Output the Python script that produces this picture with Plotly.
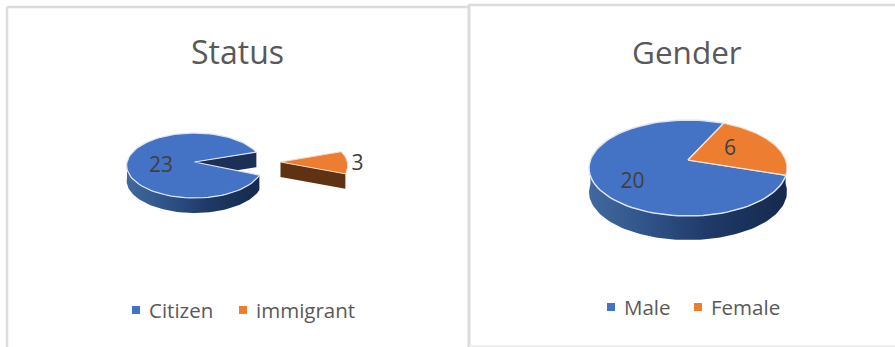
import math
import plotly.graph_objects as go

# Chart data
status_labels = ["Citizen", "immigrant"]
status_values = [23, 3]
gender_labels = ["Male", "Female"]
gender_values = [20, 6]

BLUE, ORANGE = "#4472C4", "#ED7D31"
TEXT = "#404040"
TITLE = "#595959"
FONT = "Open Sans"
FRAME = "#DCDCDC"


def project(pie, theta, radius=1.0, lift=0.0, dx=0.0):
    """Perspective projection of a disc point; theta runs clockwise from 12 o'clock."""
    u = radius * math.sin(math.radians(theta))
    v = -radius * math.cos(math.radians(theta))
    w = 1 - pie["tilt"] * v
    return (pie["cx"] + dx + pie["k"] * u / w, pie["cy"] + lift + pie["b"] * v / w)


def arc(pie, a0, a1, lift=0.0, dx=0.0, n=90, radius=1.0):
    return [project(pie, a0 + (a1 - a0) * i / n, radius, lift, dx) for i in range(n + 1)]


def add_poly(fig, pts, fill=None, line=None, width=0, gradient=None):
    xs = [p[0] for p in pts] + [pts[0][0]]
    ys = [p[1] for p in pts] + [pts[0][1]]
    kw = dict(x=xs, y=ys, mode="lines", hoverinfo="skip", showlegend=False,
              line=dict(color=line or "rgba(0,0,0,0)", width=width))
    if gradient:
        kw["fill"] = "toself"
        kw["fillgradient"] = dict(type="horizontal", colorscale=gradient)
    elif fill:
        kw["fill"] = "toself"
        kw["fillcolor"] = fill
    fig.add_trace(go.Scatter(**kw))


def sweeps(values, first_angle):
    out, start = [], first_angle
    total = sum(values)
    for val in values:
        end = start + 360 * val / total
        out.append((start, end))
        start = end
    return out


WALL_GRADIENT = [[0, "#41699F"], [0.3, "#2F5388"], [0.6, "#1F3A68"], [1, "#15294B"]]
EDGE = "#DDE5F2"

fig = go.Figure()

# Status pie: the small slice is pulled out to the right
status = dict(cx=194.5, cy=162, k=67.5, b=32.1, tilt=0.108, depth=15)
(blue_a, blue_b), (orange_a, orange_b) = sweeps(status_values, 113)
d = status["depth"]
apex = project(status, 0, 0)
pull = 86
wedge_turn = -2
wedge_radius = 0.99

# Blue rim wall, cut face, then the top surface
rim = arc(status, max(blue_a, 90), 270)
add_poly(fig, rim + [(x, y + d) for x, y in reversed(rim)], gradient=WALL_GRADIENT)
cut = project(status, orange_a)
add_poly(fig, [apex, cut, (cut[0], cut[1] + d), (apex[0], apex[1] + d)], fill="#1B2F57")
add_poly(fig, [apex] + arc(status, blue_a, blue_b), fill=BLUE, line=EDGE, width=1.2)

# Detached orange wedge
far = project(status, orange_b + wedge_turn, wedge_radius, 0, pull)
tip = project(status, 0, 0, 0, pull)
add_poly(fig, [tip, far, (far[0], far[1] + d), (tip[0], tip[1] + d)], fill="#5F3312")
add_poly(fig, [tip] + arc(status, orange_a + wedge_turn, orange_b + wedge_turn, 0, pull, radius=wedge_radius),
         fill=ORANGE, line="#F4D9C6", width=1)

# Gender pie
gender = dict(cx=688, cy=160, k=97.6, b=46.67, tilt=1 / 6, depth=24)
(male_a, male_b), (female_a, female_b) = sweeps(gender_values, 108)
d = gender["depth"]
apex = project(gender, 0, 0)
rim = arc(gender, 90, 270)
add_poly(fig, rim + [(x, y + d) for x, y in reversed(rim)], gradient=WALL_GRADIENT)
add_poly(fig, [apex] + arc(gender, male_a, male_b), fill=BLUE, line=EDGE, width=1.5)
add_poly(fig, [apex] + arc(gender, female_a % 360, (female_a % 360) + female_b - female_a),
         fill=ORANGE, line="#F4E2D6", width=1.2)

# Slice value labels
fig.add_trace(go.Scatter(x=[161, 357.5], y=[166.5, 165],
                         text=[str(v) for v in status_values], mode="text", hoverinfo="skip",
                         showlegend=False, textfont=dict(family=FONT, size=21, color=TEXT)))
fig.add_trace(go.Scatter(x=[632.5, 730], y=[183, 150],
                         text=[str(v) for v in gender_values], mode="text", hoverinfo="skip",
                         showlegend=False, textfont=dict(family=FONT, size=21, color=TEXT)))

# Legend rows
legend_rows = [
    (status_labels[0], BLUE, 136, 146.5, 310),
    (status_labels[1], ORANGE, 243, 253.5, 310),
    (gender_labels[0], BLUE, 611, 621.5, 307),
    (gender_labels[1], ORANGE, 698, 708.5, 307),
]
for label, color, mx, tx, y in legend_rows:
    fig.add_trace(go.Scatter(x=[mx], y=[y], mode="markers", hoverinfo="skip", showlegend=False,
                             marker=dict(symbol="square", size=8, color=color)))
    fig.add_annotation(x=tx, y=y, text=label, showarrow=False, xanchor="left", yanchor="middle",
                       font=dict(family=FONT, size=20.5, color=TITLE))

# Titles
fig.add_annotation(x=237.5, y=51, text="Status", showarrow=False,
                   font=dict(family=FONT, size=32, color=TITLE))
fig.add_annotation(x=687, y=51, text="Gender", showarrow=False,
                   font=dict(family=FONT, size=31.5, color=TITLE))

# Panel frames
frame_lines = [
    (7, 7, 7, 347, FRAME, 2.5),
    (7, 7, 468, 7, FRAME, 2.5),
    (469, 5, 469, 347, FRAME, 3),
    (468, 5, 895, 5, FRAME, 2.5),
    (469, 346, 895, 346, "#EBEBEB", 1.5),
]
for x0, y0, x1, y1, color, width in frame_lines:
    fig.add_shape(type="line", x0=x0, y0=y0, x1=x1, y1=y1, line=dict(color=color, width=width))

fig.update_layout(
    width=895, height=347, margin=dict(l=0, r=0, t=0, b=0),
    paper_bgcolor="white", plot_bgcolor="white", showlegend=False,
    xaxis=dict(range=[0, 895], visible=False, fixedrange=True),
    yaxis=dict(range=[347, 0], visible=False, fixedrange=True),
)
fig.write_html("out.html", config={"displayModeBar": False})
